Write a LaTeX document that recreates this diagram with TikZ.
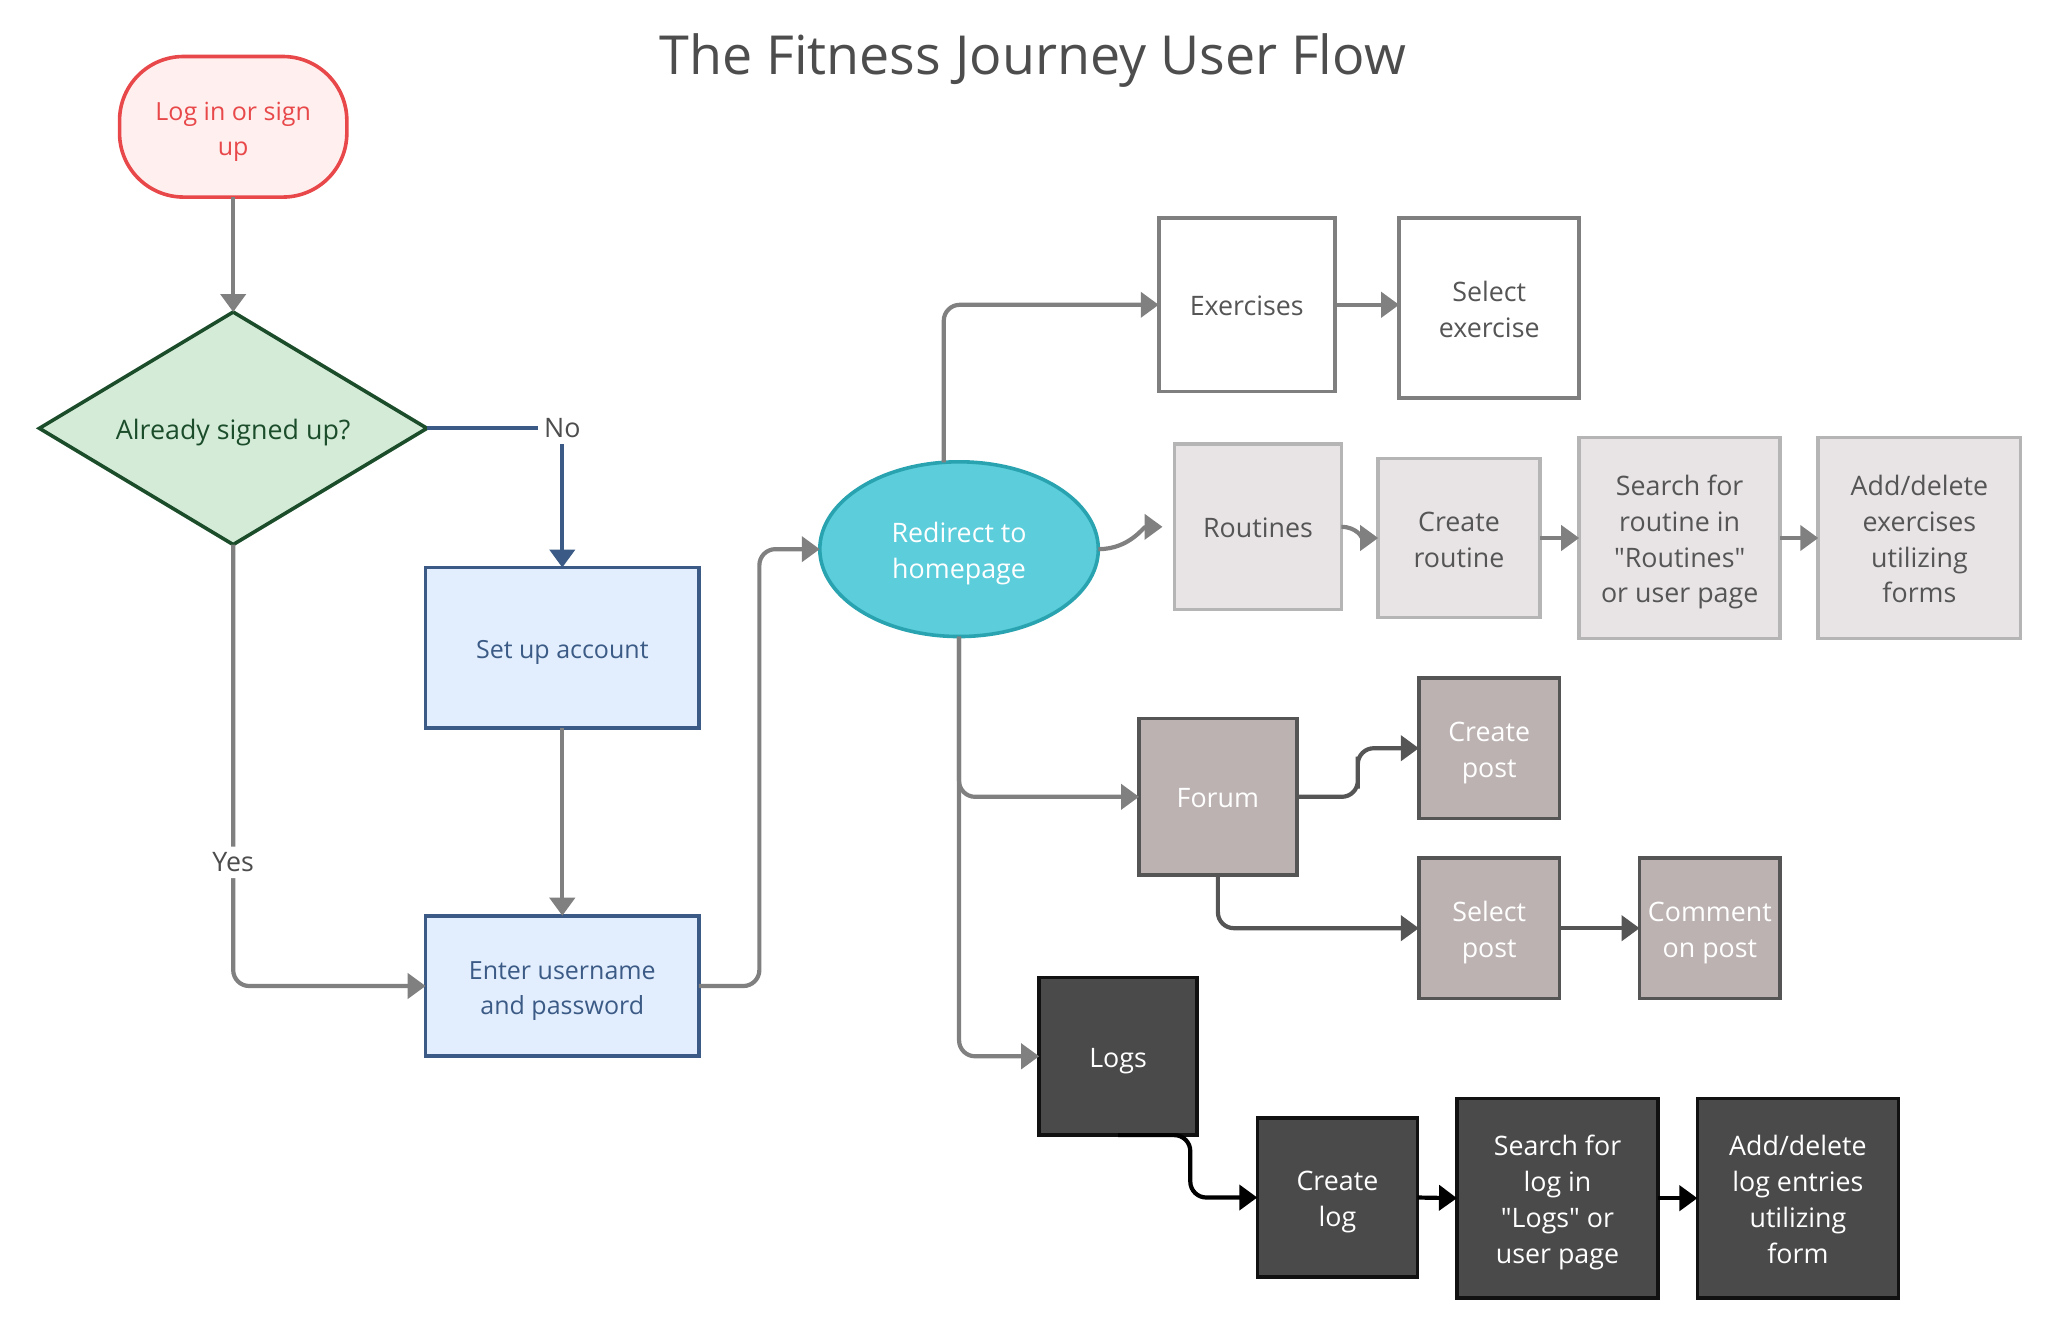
\documentclass[tikz,border=0pt]{standalone}
\usepackage{fontspec}
\setmainfont{Open Sans}[Ligatures=TeXOff]
\usetikzlibrary{shapes.geometric,arrows.meta,calc}
\definecolor{startfill}{HTML}{FFF0EF}
\definecolor{startline}{HTML}{E8484A}
\definecolor{decfill}{HTML}{D4EBD8}
\definecolor{decline}{HTML}{1B4D2A}
\definecolor{bluefill}{HTML}{E2EEFD}
\definecolor{blueline}{HTML}{3B5A85}
\definecolor{redfill}{HTML}{5BCDDB}
\definecolor{redline}{HTML}{2AA3B0}
\definecolor{exline}{HTML}{7F7F7F}
\definecolor{txtgray}{HTML}{555555}
\definecolor{routfill}{HTML}{E8E4E6}
\definecolor{routline}{HTML}{B5B5B5}
\definecolor{forfill}{HTML}{BCB2B1}
\definecolor{forline}{HTML}{555555}
\definecolor{logfill}{HTML}{4A4A4A}
\definecolor{logline}{HTML}{111111}
\definecolor{titlecol}{HTML}{4D4D4D}
\definecolor{conngray}{HTML}{808080}
\newcommand\tx[1]{\raisebox{-2pt}[\height][\depth]{\begin{tabular}{@{}c@{}}#1\end{tabular}}}
\newcommand\dq{\symbol{34}}
\begin{document}
\begin{tikzpicture}[x=0.6569pt,y=-0.6569pt,
  sz/.style 2 args={minimum width=#1*0.6569pt, minimum height=#2*0.6569pt},
  base/.style={inner sep=2pt, outer sep=0pt, line width=1.8pt,
    font=\fontsize{12.5}{17.8}\selectfont},
  big/.style={font=\fontsize{13.4}{17.9}\selectfont},
  startn/.style={base, rectangle, rounded corners=32pt, draw=startline, fill=startfill, text=startline},
  decn/.style={base, big, diamond, shape aspect=1.67, draw=decline, fill=decfill, text=decline,
    minimum width=295*0.6569pt, minimum height=177*0.6569pt},
  bluen/.style={base, rectangle, draw=blueline, fill=bluefill, text=blueline},
  redn/.style={base, big, ellipse, draw=redline, fill=redfill, text=white},
  exn/.style={base, big, rectangle, draw=exline, fill=white, text=txtgray},
  routn/.style={base, big, rectangle, draw=routline, fill=routfill, text=txtgray},
  forn/.style={base, big, rectangle, draw=forline, fill=forfill, text=white},
  logn/.style={base, big, rectangle, draw=logline, fill=logfill, text=white},
  lbl/.style={fill=white, text=titlecol, inner sep=3pt, font=\fontsize{13.4}{16}\selectfont},
  conn/.style={line width=2.1pt, rounded corners=8pt, -{Triangle[length=9pt,width=12.5pt]}},
  garrow/.style={conn, draw=conngray},
  barrow/.style={conn, draw=blueline},
  farrow/.style={conn, draw=forline},
  larrow/.style={conn, draw=black}
]
\path[use as bounding box] (0,0) rectangle (1568,1019);

\node[text=titlecol, font=\fontsize{26.9}{30}\selectfont] (title) at (786,46) {The Fitness Journey User Flow};

\node[startn, sz={173}{107}] (start) at (177.5,96.5) {\tx{Log in or sign\\up}};
\node[decn] (dec) at (177.5,326) {\tx{Already signed up?}};
\node[bluen, sz={208}{122}] (setup) at (428,493) {\tx{Set up account}};
\node[bluen, sz={208}{107}] (enter) at (428,750.5) {\tx{Enter username\\and password}};
\node[redn, sz={212}{133}] (redirect) at (730,418) {\tx{Redirect to\\homepage}};

\node[exn, sz={134}{132}] (ex) at (949,232) {\tx{Exercises}};
\node[exn, sz={137}{137}] (selex) at (1133.5,234.5) {\tx{Select\\exercise}};

\node[routn, sz={127}{126}] (rout) at (957.5,401) {\tx{Routines}};
\node[routn, sz={123}{121}] (crout) at (1110.5,409.5) {\tx{Create\\routine}};
\node[routn, sz={153}{153}] (srout) at (1278.5,409.5) {\tx{Search for\\routine in\\\dq Routines\dq\\or user page}};
\node[routn, sz={154}{153}] (arout) at (1461,409.5) {\tx{Add/delete\\exercises\\utilizing\\forms}};

\node[forn, sz={120}{119}] (forum) at (927,606.5) {\tx{Forum}};
\node[forn, sz={107}{107}] (cpost) at (1133.5,569.5) {\tx{Create\\post}};
\node[forn, sz={107}{107}] (spost) at (1133.5,706.5) {\tx{Select\\post}};
\node[forn, sz={107}{107}] (cmt) at (1301.5,706.5) {\tx{Comment\\on post}};

\node[logn, sz={120}{120}] (logs) at (851,804) {\tx{Logs}};
\node[logn, sz={122}{121}] (clog) at (1018,911.5) {\tx{Create\\log}};
\node[logn, sz={153}{152}] (slog) at (1185.5,912) {\tx{Search for\\log in\\\dq Logs\dq{} or\\user page}};
\node[logn, sz={153}{152}] (alog) at (1368.5,912) {\tx{Add/delete\\log entries\\utilizing\\form}};

% connectors
\draw[garrow] (start.south) -- (dec.north);
\draw[barrow, rounded corners=0pt] (dec.east) -| node[lbl, pos=0.5] {No} (setup.north);
\draw[garrow] (setup.south) -- (enter.north);
\draw[garrow] (dec.south) |- node[lbl, pos=0.36] {Yes} (enter.west);
\draw[garrow] (enter.east) -- ++(46,0) |- (redirect.west);

\draw[garrow] (redirect.100) |- (ex.west);
\draw[garrow] (ex.east) -- (ex.east -| selex.west);

\draw[garrow, shorten >=6pt] (redirect.east) to[out=0,in=180] (rout.west);
\draw[garrow] (rout.east) to[out=0,in=180] (crout.west);
\draw[garrow] (crout.east) -- (srout.west);
\draw[garrow] (srout.east) -- (arout.west);

\draw[garrow] (redirect.south) |- (forum.west);
\draw[garrow] (redirect.south) |- (logs.west);

\draw[farrow] (forum.east) -| ($(forum.east)!0.5!(cpost.west)$) |- (cpost.west);
\draw[farrow] (forum.south) |- (spost.west);
\draw[farrow] (spost.east) -- (cmt.west);

\draw[larrow] (logs.south) -- ++(55,0) |- (clog.west);
\draw[larrow] (clog.east) -- (slog.west);
\draw[larrow] (slog.east) -- (alog.west);
\end{tikzpicture}
\end{document}
